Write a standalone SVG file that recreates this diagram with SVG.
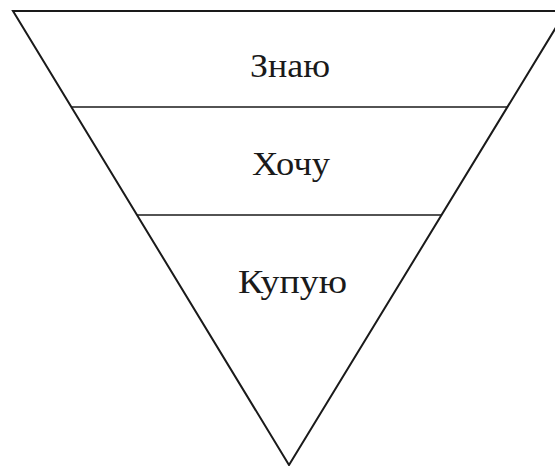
<svg xmlns="http://www.w3.org/2000/svg" width="555" height="466" viewBox="0 0 555 466">
<style>
.edge{fill:none;stroke:#1a1a1a;stroke-width:2;stroke-linejoin:miter}
.div{stroke:#1a1a1a;stroke-width:1.6}
.lbl{font-family:"Liberation Serif","Times New Roman",serif;font-size:34px;fill:#1a1a1a;text-anchor:middle}
</style>
<rect width="555" height="466" fill="#fff"/>
<g id="funnel">
<polygon class="edge" points="13,11 566,11 289,465"/>
</g>
<g id="connectors">
<line class="div" x1="71" y1="107" x2="508" y2="107"/>
<line class="div" x1="137" y1="215" x2="442" y2="215"/>
</g>
<g id="znayu"><text class="lbl" x="290" y="77" textLength="80" lengthAdjust="spacingAndGlyphs">Знаю</text></g>
<g id="khochu"><text class="lbl" x="291" y="175" textLength="78" lengthAdjust="spacingAndGlyphs">Хочу</text></g>
<g id="kupuyu"><text class="lbl" x="292.5" y="293" textLength="109" lengthAdjust="spacingAndGlyphs">Купую</text></g>
</svg>
